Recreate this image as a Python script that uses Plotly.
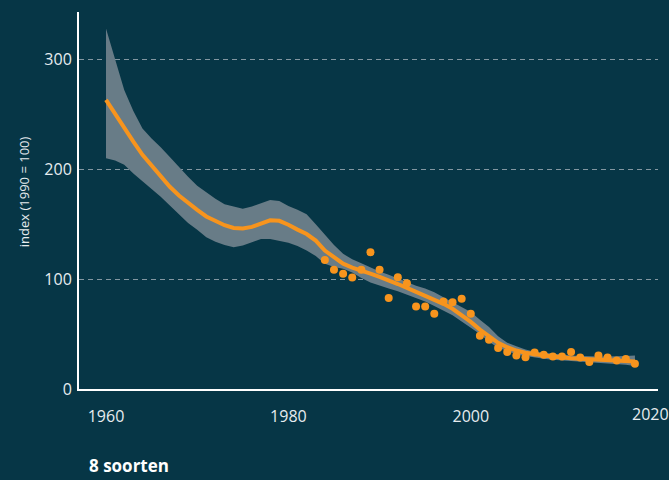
import plotly.graph_objects as go

# ---- data ----
trend_years = list(range(1960, 2019))
trend = [263, 250, 237, 225, 213, 203, 193, 184, 176, 169,
         163, 157, 153, 149, 146.5, 146, 147.5, 150.5, 153.5, 153,
         149.5, 145, 141, 135, 126, 120, 114, 110.5, 108, 105,
         102, 99, 95.5, 92, 88.5, 85, 81.5, 77.5, 73, 67.5,
         61, 54, 47.5, 42, 38, 35, 33, 31.5, 30.5, 29.5,
         28.5, 28, 27.5, 27, 26.5, 26, 25.8, 25.5, 25]
upper = [328, 300, 272, 253, 237, 228, 220, 211, 202, 193,
         185, 179, 173, 168, 166, 164, 166, 169, 172, 171,
         166.5, 163, 159, 150, 140, 131, 123, 118, 114.5, 110.5,
         107, 104, 100.5, 97, 94, 91.5, 88, 83.5, 79, 74.5,
         70, 63, 56.5, 48, 42, 39, 36, 34, 33, 32,
         31, 30.5, 30, 29.5, 29.5, 29.5, 29.5, 30, 30.5]
lower = [210, 208, 204, 196, 189, 182, 175, 167, 159, 151,
         145, 138, 134, 131, 129, 130.5, 133.5, 136.5, 136.5, 135,
         133, 130, 126, 121, 114, 111, 109.5, 106, 101, 97,
         94, 91.5, 89, 86, 83, 79.5, 75.5, 71.5, 67, 61.5,
         55.5, 50, 43, 37.5, 34.5, 31.5, 30, 28.5, 27.5, 26.5,
         26, 25.5, 25, 24.5, 24, 23.5, 23, 22, 21]
obs_years = list(range(1984, 2019))
obs = [117.4, 108.4, 104.8, 101.4, 108.4, 124.4, 108.4, 82.7, 101.7, 96.3,
       75, 75, 68.4, 79.6, 79, 82, 68.4, 48.4, 44.8, 37.2,
       33.6, 30.5, 29, 33.2, 31.1, 29.6, 29.6, 33.6, 28.7, 24.5,
       30.5, 28.7, 26, 27.2, 23]
x_ticks = [1960, 1980, 2000]
x_last_tick = 2020
y_ticks = [0, 100, 200, 300]
title_text = "8 soorten"
y_title = "index (1990 = 100)"

BG = "#063646"
ORANGE = "#f7941d"
BAND = "#687c87"
TXT = "#e6ecef"
FONT = "Open Sans"

fig = go.Figure()
fig.add_trace(go.Scatter(x=trend_years, y=upper, mode="lines",
                         line=dict(width=0, color=BAND), hoverinfo="skip",
                         showlegend=False))
fig.add_trace(go.Scatter(x=trend_years, y=lower, mode="lines",
                         line=dict(width=0, color=BAND), fill="tonexty",
                         fillcolor=BAND, hoverinfo="skip", showlegend=False))
fig.add_trace(go.Scatter(x=trend_years, y=trend, mode="lines",
                         line=dict(width=4, color=ORANGE), showlegend=False))
fig.add_trace(go.Scatter(x=obs_years, y=obs, mode="markers",
                         marker=dict(size=8, color=ORANGE), showlegend=False))

fig.update_layout(
    width=669, height=480,
    paper_bgcolor=BG, plot_bgcolor=BG,
    margin=dict(l=79, r=11, t=12, b=91),
    font=dict(family=FONT, color=TXT, size=16),
    showlegend=False,
    xaxis=dict(range=[1957.04, 2020.53], tickvals=x_ticks,
               showgrid=False, zeroline=False,
               showline=True, linecolor="white", linewidth=2,
               ticks="outside", ticklen=12, tickcolor="rgba(0,0,0,0)",
               tickfont=dict(size=16, color=TXT, family=FONT)),
    yaxis=dict(range=[0, 343], tickvals=y_ticks,
               showgrid=True, gridcolor="#8397a1", griddash="5px,4px", gridwidth=1,
               zeroline=False,
               showline=True, linecolor="white", linewidth=2,
               ticks="outside", ticklen=2, tickcolor="rgba(0,0,0,0)",
               tickfont=dict(size=16, color=TXT, family=FONT)),
    annotations=[
        dict(text=str(x_last_tick), xref="x", yref="paper", x=x_last_tick, y=0,
             xanchor="center", yanchor="top", xshift=-3, yshift=-12,
             showarrow=False, font=dict(size=16, color=TXT, family=FONT)),
        dict(text=y_title, xref="paper", yref="paper", x=-0.096, y=0.523,
             xanchor="center", yanchor="middle", textangle=-90, showarrow=False,
             font=dict(size=13, color=TXT, family=FONT)),
        dict(text="<b>" + title_text + "</b>", xref="paper", yref="paper",
             x=0.0138, y=-0.2016, xanchor="left", yanchor="middle",
             showarrow=False, font=dict(size=17, color="white", family=FONT)),
    ],
)

fig.write_html("out.html", config={"displayModeBar": False})

with open("out.html", "r", encoding="utf-8") as f:
    html = f.read()
html = html.replace("<head>", "<head><style>html,body{margin:0;padding:0;overflow:hidden;background:%s;}</style>" % BG, 1)
with open("out.html", "w", encoding="utf-8") as f:
    f.write(html)
